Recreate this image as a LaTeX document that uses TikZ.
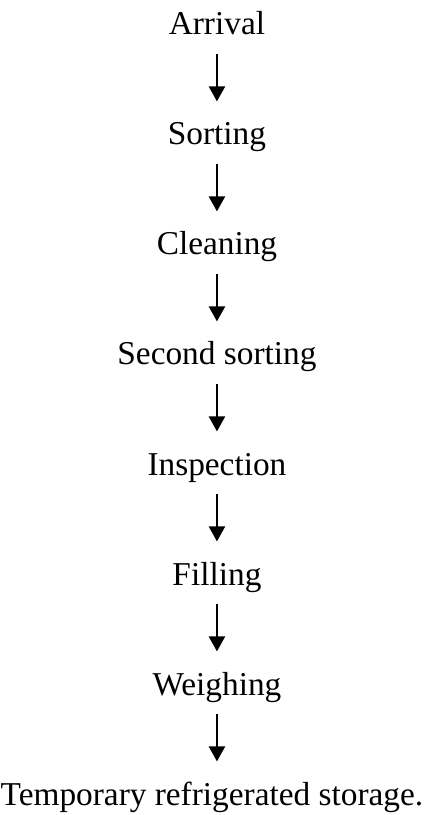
\documentclass[tikz,border=0pt]{standalone}
\usepackage{fontspec}
\setmainfont{Liberation Serif}
\usetikzlibrary{arrows.meta,positioning}

\begin{document}
\begin{tikzpicture}[node distance=39.6pt,on grid,
		stage/.style={inner sep=0pt,text height=7.5pt,text depth=2pt,font=\fontsize{12}{14}\selectfont},
		flow/.style={-{Triangle[width=5.8pt,length=5.4pt]},line width=0.7pt,shorten <=4.6pt,shorten >=8pt}]
		\useasboundingbox (0,0) rectangle (152.64pt,-293.4pt);
		\node[stage] (arrival) at (78.1pt,-9.85pt) {Arrival};
		\node[stage] (sorting) [below=of arrival] {Sorting};
		\node[stage] (cleaning) [below=of sorting] {Cleaning};
		\node[stage] (second) [below=of cleaning] {Second sorting};
		\node[stage] (inspection) [below=of second] {Inspection};
		\node[stage] (filling) [below=of inspection] {Filling};
		\node[stage] (weighing) [below=of filling] {Weighing};
		\node[stage] (storage) [below=of weighing,xshift=-1.8pt] {Temporary refrigerated storage.};
		\path[flow]
		(arrival.south) edge (sorting.north)
		(sorting.south) edge (cleaning.north)
		(cleaning.south) edge (second.north)
		(second.south) edge (inspection.north)
		(inspection.south) edge (filling.north)
		(filling.south) edge (weighing.north)
		(weighing.south) edge (weighing.south |- storage.north);
	\end{tikzpicture}
\end{document}
